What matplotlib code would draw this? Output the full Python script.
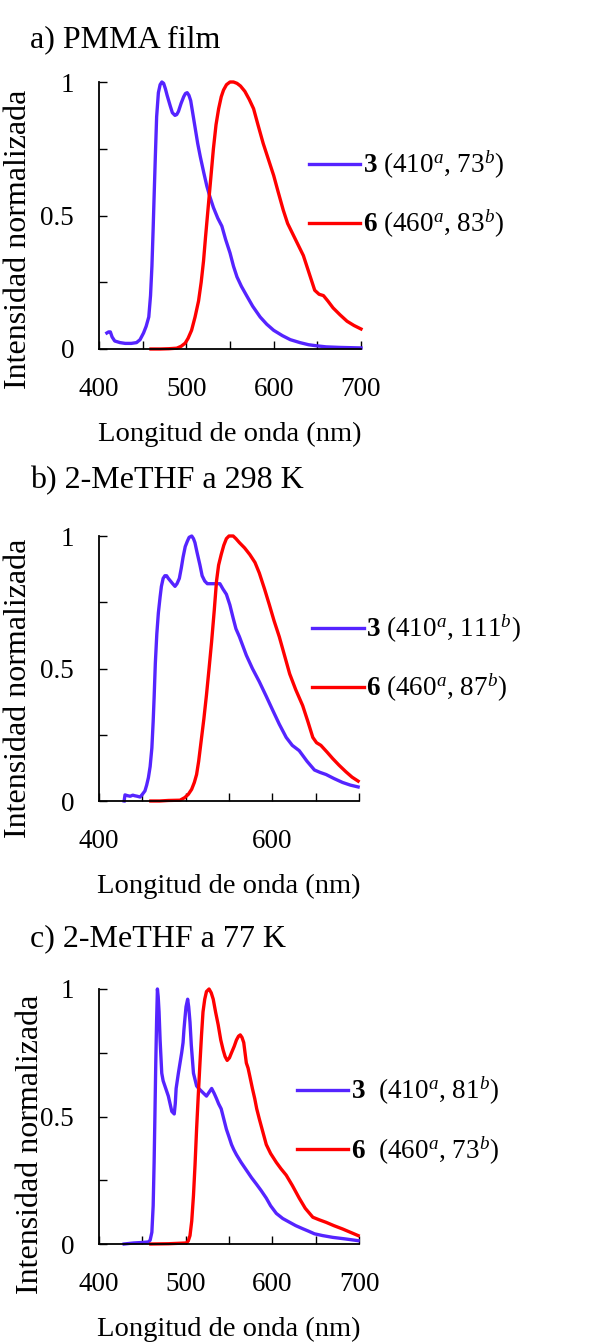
import matplotlib
matplotlib.use('Agg')
import matplotlib.pyplot as plt

plt.rcParams['font.family'] = ['Liberation Serif', 'DejaVu Serif']
plt.rcParams['mathtext.fontset'] = 'custom'
plt.rcParams['mathtext.rm'] = 'Liberation Serif'
plt.rcParams['mathtext.it'] = 'Liberation Serif:italic'
plt.rcParams['mathtext.bf'] = 'Liberation Serif:bold'

# a) PMMA film
a_x3 = [409, 411, 413, 415, 418, 424, 430, 437, 443, 447, 451, 454, 457, 459, 460.6, 462, 463, 464.5, 466, 468,
        470, 472, 474, 476, 478, 481.6, 484, 487, 489, 491, 494, 497, 499, 501, 503, 505, 507, 510, 513, 516,
        520, 523.5, 527, 531, 536, 540.7, 545, 550, 554, 558, 563, 569, 576, 584.5, 592, 600, 610, 619, 630, 640,
        649, 660, 675, 700]
a_y3 = [0.06, 0.064, 0.064, 0.045, 0.03, 0.024, 0.021, 0.021, 0.024, 0.035, 0.06, 0.085, 0.12, 0.2, 0.31, 0.45, 0.56, 0.72, 0.87, 0.96,
        0.99, 1.0, 0.995, 0.975, 0.95, 0.91, 0.885, 0.875, 0.878, 0.89, 0.92, 0.945, 0.957, 0.96, 0.95, 0.93, 0.89, 0.83, 0.77, 0.72,
        0.66, 0.61, 0.57, 0.53, 0.49, 0.46, 0.41, 0.36, 0.31, 0.27, 0.235, 0.2, 0.16, 0.12, 0.093, 0.07, 0.05, 0.035, 0.024, 0.016,
        0.012, 0.008, 0.006, 0.004]
a_x6 = [459.5, 470, 480, 489, 494, 498.7, 502, 506, 510, 514, 517, 519.7, 522, 525, 528, 531, 534, 537, 540, 542.6,
        546, 550, 554, 558, 562, 567, 572, 577, 582, 588, 594, 600, 605, 611, 616, 622, 628, 634, 640, 647,
        652, 657, 662, 668, 676, 684, 692, 700]
a_y6 = [0.0, 0.0, 0.001, 0.003, 0.01, 0.022, 0.04, 0.07, 0.12, 0.18, 0.25, 0.33, 0.42, 0.53, 0.64, 0.75, 0.84, 0.9, 0.945, 0.97,
        0.99, 1.0, 1.0, 0.995, 0.985, 0.965, 0.935, 0.9, 0.84, 0.77, 0.71, 0.65, 0.59, 0.52, 0.47, 0.43, 0.39, 0.35, 0.29, 0.22,
        0.205, 0.2, 0.18, 0.154, 0.128, 0.104, 0.088, 0.075]

# b) 2-MeTHF a 298 K
b_x3 = [429, 430, 433, 436, 439, 441, 444, 447.5, 450, 453, 455, 457, 459, 461, 462.5, 463.6, 465, 466.7, 468.5, 470.5,
        472, 474, 476, 478, 480, 482.5, 485, 487.7, 490, 492.7, 495, 497, 499.5, 501.9, 504, 507, 509, 510.7, 513, 516.5,
        519, 522, 525, 528, 533, 536, 539.5, 543, 547, 551, 554.8, 558, 562, 566, 570, 577, 585, 593, 600.8, 608,
        616, 623, 631, 640, 648.6, 655, 662, 671, 681, 690, 699]
b_y3 = [0.0, 0.023, 0.02, 0.018, 0.022, 0.02, 0.018, 0.015, 0.025, 0.038, 0.06, 0.088, 0.13, 0.2, 0.3, 0.39, 0.52, 0.63, 0.71, 0.77,
        0.81, 0.84, 0.85, 0.85, 0.84, 0.83, 0.82, 0.81, 0.82, 0.84, 0.88, 0.92, 0.96, 0.98, 0.995, 1.0, 0.99, 0.975, 0.94, 0.89,
        0.85, 0.83, 0.82, 0.82, 0.82, 0.82, 0.82, 0.8, 0.78, 0.74, 0.69, 0.65, 0.62, 0.585, 0.55, 0.5, 0.45, 0.395, 0.34, 0.29,
        0.24, 0.21, 0.19, 0.15, 0.117, 0.108, 0.1, 0.085, 0.07, 0.06, 0.053]
b_x6 = [459.8, 470, 480, 493.5, 499, 503, 506.9, 510, 512.6, 515, 518, 521, 524, 527, 529.9, 533, 535.6, 538, 541, 544,
        547, 550, 554.8, 558, 562, 568, 574, 580, 585, 591, 596.6, 602, 608, 614, 620, 627, 635, 641, 646.7, 651,
        656, 663, 669.7, 677, 685, 692, 699]
b_y6 = [0.0, 0.0, 0.002, 0.003, 0.013, 0.025, 0.044, 0.07, 0.1, 0.15, 0.23, 0.31, 0.4, 0.5, 0.6, 0.72, 0.83, 0.89, 0.93, 0.965,
        0.99, 1.0, 1.0, 0.99, 0.975, 0.955, 0.93, 0.9, 0.86, 0.8, 0.74, 0.68, 0.62, 0.55, 0.48, 0.42, 0.36, 0.3, 0.24, 0.22,
        0.21, 0.185, 0.16, 0.135, 0.11, 0.09, 0.075]

# c) 2-MeTHF a 77 K
c_x3 = [429, 440, 450, 457, 459, 461, 462.5, 463.6, 464.5, 465.5, 466.5, 467.4, 468.3, 469.3, 470.5, 472.4, 474, 476, 478, 480,
        482, 484, 486.8, 488, 489, 491.6, 493.5, 495.4, 497, 498, 499.3, 500.4, 502.3, 503.5, 505, 506.5, 509, 512.6, 515, 518,
        521, 524, 527, 530, 533, 535.6, 538, 541, 544, 547, 550, 552.9, 555.5, 558.6, 564, 570, 576, 581.6, 587, 593,
        598, 604.6, 612, 620, 627, 635, 642, 648.6, 658, 669.7, 684, 699]
c_y3 = [0.0, 0.004, 0.006, 0.008, 0.015, 0.046, 0.15, 0.32, 0.5, 0.71, 0.88, 1.0, 0.97, 0.91, 0.8, 0.67, 0.64, 0.62, 0.6, 0.58,
        0.55, 0.52, 0.51, 0.55, 0.61, 0.67, 0.71, 0.75, 0.79, 0.84, 0.89, 0.93, 0.96, 0.93, 0.87, 0.78, 0.67, 0.62, 0.61, 0.6,
        0.59, 0.58, 0.595, 0.61, 0.59, 0.57, 0.55, 0.53, 0.49, 0.45, 0.42, 0.39, 0.37, 0.35, 0.32, 0.29, 0.26, 0.235, 0.21, 0.18,
        0.15, 0.12, 0.1, 0.085, 0.072, 0.06, 0.05, 0.04, 0.033, 0.026, 0.02, 0.013]
c_x6 = [459.8, 480, 501, 503, 505, 507, 509, 510.8, 512.6, 514.5, 516.5, 518.3, 520, 522, 524, 527, 529.5, 531.8, 534.5, 537.5,
        540.5, 543.3, 545.5, 547.9, 550.5, 552.9, 556, 558.6, 561, 563, 565, 567, 568.5, 570, 572, 573.9, 577, 579.7, 582, 585,
        589, 593, 598, 604.6, 610, 616, 623, 631, 638, 646.7, 654, 662, 671, 681, 690, 699]
c_y6 = [0.0, 0.001, 0.004, 0.012, 0.033, 0.09, 0.19, 0.31, 0.45, 0.58, 0.71, 0.82, 0.91, 0.96, 0.99, 1.0, 0.985, 0.96, 0.91, 0.86,
        0.8, 0.76, 0.735, 0.72, 0.73, 0.75, 0.775, 0.8, 0.815, 0.82, 0.81, 0.79, 0.75, 0.71, 0.69, 0.66, 0.61, 0.57, 0.53, 0.49,
        0.44, 0.39, 0.355, 0.32, 0.295, 0.27, 0.23, 0.18, 0.14, 0.105, 0.095, 0.085, 0.072, 0.059, 0.046, 0.033]

titles = ['a) PMMA film', 'b) 2-MeTHF a 298 K', 'c) 2-MeTHF a 77 K']
labels3 = [r'$\mathbf{3}$ (410$^{\mathit{a}}$, 73$^{\mathit{b}}$)',
           r'$\mathbf{3}$ (410$^{\mathit{a}}$, 111$^{\mathit{b}}$)',
           r'$\mathbf{3}$  (410$^{\mathit{a}}$, 81$^{\mathit{b}}$)']
labels6 = [r'$\mathbf{6}$ (460$^{\mathit{a}}$, 83$^{\mathit{b}}$)',
           r'$\mathbf{6}$ (460$^{\mathit{a}}$, 87$^{\mathit{b}}$)',
           r'$\mathbf{6}$  (460$^{\mathit{a}}$, 73$^{\mathit{b}}$)']
xtick_labels = [['400', '', '500', '', '600', '', '700'],
                ['400', '', '', '', '600', '', ''],
                ['400', '', '500', '', '600', '', '700']]

blue = '#5524FF'
red = '#FF0000'

fig = plt.figure(figsize=(6.01, 13.44), dpi=100)
W, H = 601, 1344
# axes boxes in pixels: left, top, right, bottom
boxes = [(99, 82, 361, 349), (99, 536, 359, 801), (99, 989, 359, 1244)]
title_y = [40, 481, 939]
leg_pos = [(0.80, 0.578), (0.82, 0.538), (0.76, 0.483)]
ylab_pos = [(-0.25, 0.41), (-0.254, 0.426), (-0.208, 0.39)]

data = [(a_x3, a_y3, a_x6, a_y6), (b_x3, b_y3, b_x6, b_y6), (c_x3, c_y3, c_x6, c_y6)]

for i in range(3):
    l, t, r, b = boxes[i]
    ax = fig.add_axes([l / W, 1 - b / H, (r - l) / W, (b - t) / H])
    x3, y3, x6, y6 = data[i]
    ax.plot(x3, y3, color=blue, lw=2.4, label=labels3[i], solid_joinstyle='round', clip_on=False)
    ax.plot(x6, y6, color=red, lw=2.4, label=labels6[i], solid_joinstyle='round', clip_on=False)
    ax.set_xlim(400, 700)
    ax.set_ylim(0, 1)
    ax.spines['top'].set_visible(False)
    ax.spines['right'].set_visible(False)
    ax.spines['left'].set_linewidth(1.3)
    ax.spines['bottom'].set_linewidth(1.3)
    ax.set_xticks([400, 450, 500, 550, 600, 650, 700])
    ax.set_xticklabels(xtick_labels[i])
    ax.set_yticks([0, 0.25, 0.5, 0.75, 1])
    ax.set_yticklabels(['0', '', '0.5', '', '1'])
    ax.tick_params(axis='both', direction='in', length=6, width=1, labelsize=19.5)
    ax.tick_params(axis='x', pad=20)
    ax.tick_params(axis='y', pad=18)
    ax.set_xlabel('Longitud de onda (nm)', fontsize=20.5, labelpad=14.5)
    ax.set_ylabel('Intensidad normalizada', fontsize=23)
    ax.yaxis.set_label_coords(*ylab_pos[i])
    ax.legend(loc='center left', bbox_to_anchor=leg_pos[i], frameon=False, fontsize=19.5,
              handlelength=1.9, handletextpad=0.1, labelspacing=1.0, borderpad=0, borderaxespad=0)
    fig.text(30 / W, 1 - title_y[i] / H, titles[i], fontsize=23, ha='left', va='center')

fig.savefig('out.png', dpi=100)
